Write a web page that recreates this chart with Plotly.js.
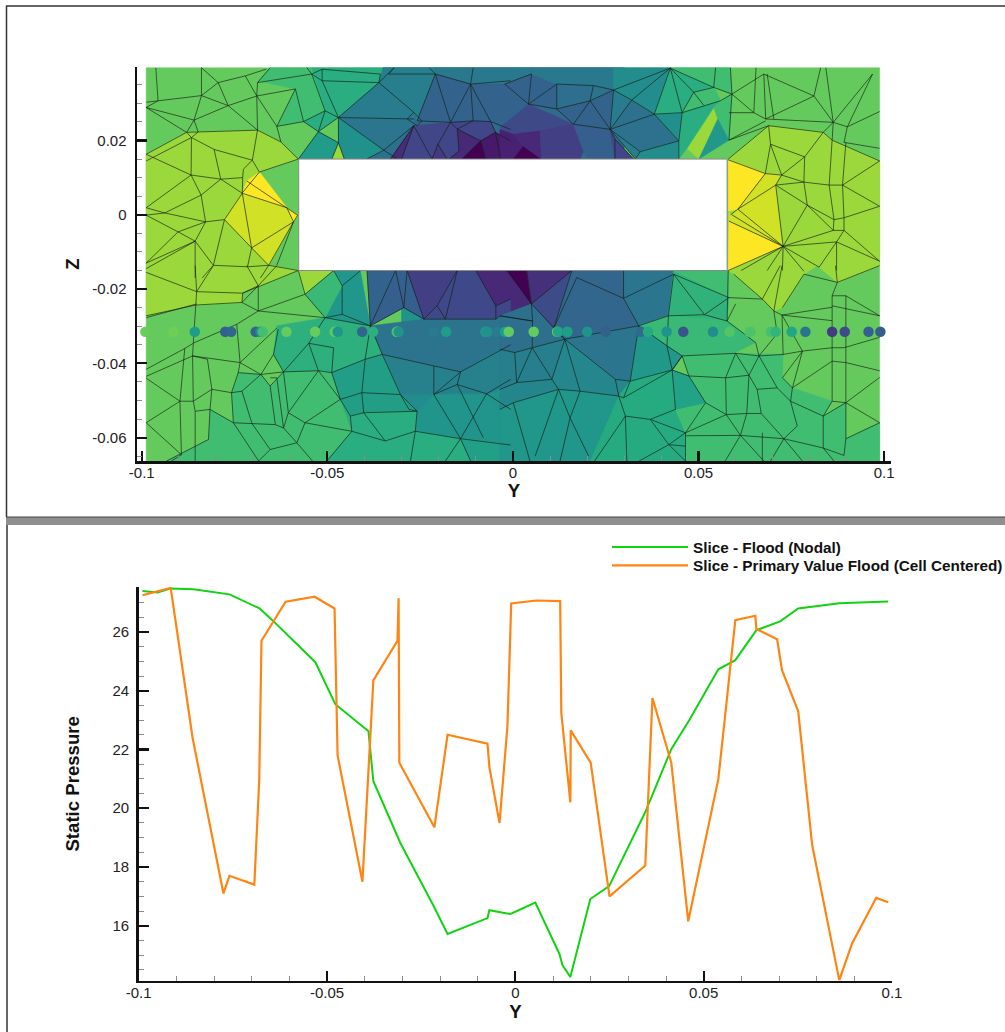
<!DOCTYPE html>
<html>
<head>
<meta charset="utf-8">
<script src="https://cdn.plot.ly/plotly-3.0.1.min.js"></script>
<style>html,body{margin:0;padding:0;background:#fff;width:1005px;height:1032px;overflow:hidden}#chart{width:1005px;height:1032px;overflow:hidden}</style>
</head>
<body>
<div id="chart"></div>
<script>
// Slice line values: position along Y (m) and static pressure
const nodalY = [-0.099,-0.095,-0.0916,-0.0855,-0.0759,-0.0679,-0.0637,-0.0531,-0.0478,-0.039,-0.0377,-0.0305,-0.0218,-0.018,-0.0074,-0.0069,-0.0013,0.0053,0.0117,0.0125,0.0146,0.0199,0.0249,0.0345,0.0414,0.0462,0.0539,0.0584,0.064,0.0703,0.0751,0.086,0.099];
const nodalP = [27.39,27.34,27.48,27.45,27.28,26.8,26.3,24.97,23.54,22.62,20.92,18.81,16.7,15.72,16.26,16.53,16.4,16.79,15.04,14.66,14.26,16.91,17.35,19.87,22.01,23,24.73,25.04,26.06,26.36,26.8,26.98,27.04];
const cellY = [-0.099,-0.0915,-0.0857,-0.0775,-0.0759,-0.0693,-0.068,-0.0674,-0.061,-0.0533,-0.048,-0.0472,-0.0406,-0.0377,-0.0313,-0.031,-0.0308,-0.0215,-0.018,-0.0074,-0.0069,-0.0042,-0.0021,-0.0011,0.0056,0.0119,0.0122,0.0146,0.0147,0.02,0.025,0.0345,0.0364,0.0414,0.0459,0.0539,0.0584,0.0637,0.064,0.0695,0.0708,0.0751,0.0788,0.086,0.0894,0.0958,0.099];
const cellP = [27.25,27.5,22.4,17.1,17.7,17.4,20.95,25.7,27.03,27.2,26.8,21.8,17.5,24.35,25.7,27.15,21.55,19.35,22.5,22.2,21.4,19.5,22.8,26.97,27.07,27.05,23.25,20.2,22.65,21.55,17,18.05,23.75,21.55,16.15,21,26.4,26.55,26.1,25.75,24.7,23.3,18.75,14.15,15.4,16.95,16.8];
const sliceZ = -0.0315;
const nodalName = 'Slice - Flood (Nodal)';
const cellName = 'Slice - Primary Value Flood (Cell Centered)';

// Tick values and labels
const yTickVals = [-0.1,-0.05,0,0.05,0.1];
const yTickText = ['-0.1','-0.05','0','0.05','0.1'];
const zTickVals = [-0.06,-0.04,-0.02,0,0.02];
const zTickText = ['-0.06','-0.04','-0.02','0','0.02'];
const pressureTickVals = [16,18,20,22,24,26];
const pressureTickText = ['16','18','20','22','24','26'];

// Flooded pressure zones of the cross-section: value and outline [y,z, y,z, ...] in mm
const zoneValues = [27, 18, 21.5, 28.9,30.7,32.2,32.2, 28.9,32.2,32.2,30.7,30.7,28.9,28.9,
  25.5,24,22.4,21.35,19.5,19,18.5,19.8,19.2,17.4,19.2,18.3,18.8,15.3,15,13.3,14,15,13,10.5,12,12.5,10.5,13,14.5,17,15,19.4,18.6,21,19.5,21,21.3,24,25.5,25.5,24,25.5,22,
  25.5,24.2,21.8,25,17.4,17,14.5,10.5,15.2,13,15,18.8,20,21.6,22.6,21,24,24,22.8,
  15.5,17.6,10.5,13.5,18.4,19,24.5,25.5,19,25,22,20.5,20.5,19.8,20.3,21.8,23.8,25.5,23];
const zoneOutlines = [
 [-98.8,39.6,98.8,39.6,98.8,-66.3,-98.8,-66.3],
 [-35,39.6,30,39.6,30,15,-35,15],
 [-30,-15,35,-15,35,-66.3,-30,-66.3],
 [-98.8,16.3,-87.9,22.2,-68.8,22.8,-62.5,19.6,-57.8,15,-68.3,11.5,-60.9,1.9,-59.1,-1.9,-65.8,-13.6,-57.8,-15,-48.3,-15,-56,-21.4,-57.8,-15,-72.8,-21.1,-73,-23.6,-85.4,-24.3,-98.8,-27.2],
 [-77.7,-1.3,-72.9,5.8,-60.9,1.9,-59.1,-1.9,-65.8,-13.6,-70.4,-8.9],
 [-72.9,5.8,-71.7,9.1,-68.3,11.5,-60.9,1.9],
 [-60.7,1.7,-58,-0.1,-59.1,-1.9],
 [58,15,68.9,24,83.6,22.2,86,20.1,98.8,14.5,98.8,-13.7,87.4,-18.2,82,-13.7,78.4,-16,72.6,-25,70.3,-25.9,67.2,-22.7,59.5,-16,58,-15],
 [58,14.8,68,11.1,60.6,1.5,58.1,1],
 [58.2,-1.7,72.5,-8.5,58,-15],
 [68,11.1,72.1,10.7,70.8,8,72.5,-8.5,59,0,60.6,1.5],
 [58.2,0.5,72.5,-8.5,58.2,-1.7],
 [54.1,28.9,55.2,25.8,50.1,15,46.9,17.9],
 [-47,19.4,-48.8,15,-45.4,15],
 [-68.6,36,-65.4,39.6,-54.2,39.6,-50.6,28,-56.4,25.1,-63.6,23.8,-58.6,33.9],
 [-54.2,39.6,-34.8,39.6,-36.1,35.6,-47,26.2,-52.4,22.4,-56.4,25.1,-50.6,28],
 [-52.4,22.4,-47,19.4,-48.8,15,-57.8,15],
 [-47,26.2,-34.8,17.4,-39.4,15,-45.4,15,-47,19.4],
 [-47,26.2,-36.1,35.6,-26.7,27.6,-26.7,25.8],
 [-47,26.2,-26.7,25.8,-26.7,24,-34.8,17.4],
 [-34.8,17.4,-26.7,24,-33,15,-39.4,15],
 [-36.1,35.6,-35,39.6,-20.9,39.6,-20.9,37.9,-25.8,25.3,-26.7,27.6],
 [-20.9,39.6,5,39.6,5,37.9,-2.2,35.2,-11.4,35.2,-20.9,37.9],
 [-20.9,37.9,-25.8,25.3,-16.8,24.9,-10.7,25.3,-6,25.1,-0.6,22.5,4.2,29.8,11.8,28.5,16.3,24.4,26.2,23,27.1,33.6,21.7,34.8,11.8,35.2,5,37.9,-2.2,35.2,-11.4,35.2],
 [5,39.6,27.1,39.6,27.1,33.6,21.7,34.8,11.8,35.2,5,37.9],
 [11.8,35.2,21.7,34.8,20.8,30.7,11.8,28.5],
 [21.7,34.8,27.1,33.6,20.8,30.7],
 [-3.5,23.5,4.2,29.8,16.3,24.4,7.3,22.6,0,21],
 [-26.7,24,-16.8,24.9,-15,23.1,-14.5,17.2,-17.2,15,-33,15],
 [-26.7,24,-33,15,-30,15],
 [-20.2,19,-21.8,15,-17.7,15],
 [-16.8,24.9,-10.7,25.3,-6,25.1,-4.7,22.2,-8.7,19.9,-15,23.1],
 [-15,23.1,-8.7,19.9,-13.7,15,-17.2,15,-14.5,17.2],
 [-8.7,19.9,-13.7,15,-7.3,15],
 [-8.7,19.9,-4.7,22.2,-0.6,19.9,-3.3,15,-7.3,15],
 [-3.5,23,0.1,21.7,2.8,18.5,0.1,15,-3.5,15],
 [2.8,18.5,7.7,15,0.1,15],
 [0.1,21.7,7.3,22.6,7.7,15,2.8,18.5],
 [7.3,22.6,16.3,24.4,19,17.2,18.1,15,7.7,15],
 [16.3,24.4,26.2,23,27.5,20.4,27.5,15,20.4,15,19,17.2],
 [26.2,22.6,27.5,20.4,32.5,15,27.5,15],
 [27.1,33.6,32,30.9,26.2,23],
 [32,30.9,38.1,27.1,44.7,19.9,34.3,17,26.2,23],
 [34.3,17,44.7,19.9,44.7,15,33,15],
 [26.2,23,34.3,17,33,15],
 [27.1,39.6,42.4,39.6,38.1,27.1,32,30.9,27.1,33.6],
 [38.1,27.1,45.6,27.5,44.7,19.9],
 [42.4,39.6,54.1,34.3,55.9,30.7,45.6,27.5,38.1,27.1],
 [42.4,39.6,58.6,39.6,59,32.5,54.1,34.3],
 [48.7,33,54.1,34.3,55.9,30.7,45.6,27.5],
 [45.6,27.5,55.9,30.7,54.1,28.9,46.9,17.9,44.7,15,44.7,19.9],
 [55.9,30.7,59,32.5,58.2,20.1,55.2,25.8,54.1,28.9],
 [55.2,25.8,58.2,20.1,50.1,15],
 [-74,-42.5,-75.8,-47.9,-75.3,-56,-81.6,-52.4,-82,-60.5,-93.3,-66.3,-50.1,-66.3,-43.4,-58.3,-46.5,-49.7,-48.8,-42.5,-52.4,-42,-61.8,-42.3,-65.4,-46.1,-67.7,-43],
 [-63.6,-29.9,-50.6,-27.7,-38.4,-29.9,-35.2,-37.6,-39.8,-38.9,-48.8,-42.5,-52.4,-42,-61.8,-42.3,-64.5,-37.6],
 [-48.3,-15,-46,-19.1,-50.6,-27.7,-38.4,-29.9,-41.1,-15],
 [-56,-21.4,-48.3,-15,-46,-19.1,-50.6,-27.7],
 [-39.3,-15,-31.6,-15,-38.4,-29.9],
 [-31.6,-15,-28.5,-15,-24,-28.1,-29.4,-25,-38.4,-29.9],
 [-28.5,-15,-15,-15,-20.4,-24.5,-24,-28.1],
 [-15,-15,-11.4,-16.6,-10,-15],
 [-20.4,-24.5,-15,-15,-10,-15,-4.6,-24.5,-4.6,-28.1,-18.2,-28.1,-24,-28.1],
 [-10,-15,-1.7,-15,5,-24,-3.5,-27.2,-4.6,-24.5],
 [-4.6,-24.5,-0.6,-22.7,-0.6,-28.5,-4.6,-28.1],
 [-38.4,-29.9,-24,-28.1,-18.2,-28.1,-4.6,-28.1,-3.5,-27.2,-3.5,-36.2,-14.1,-42.3,-21.3,-40.7,-35.2,-37.6],
 [-35.2,-37.6,-21.3,-40.7,-14.1,-42.3,-3.5,-36.2,-3.5,-47,-7.1,-48.2,-21.3,-48.4,-30.3,-48.4],
 [-26.3,-58.3,-25.8,-52.9,-21.3,-48.4,-7.1,-48.2,-3.5,-52.4,-3.5,-61.4,-14.1,-60.3],
 [-48.8,-42.5,-39.8,-38.9,-35.2,-37.6,-30.3,-48.4,-25.8,-52.9,-40.2,-53.3,-43.8,-54.2,-46.5,-49.7],
 [-30.3,-48.4,-21.3,-48.4,-25.8,-52.9],
 [-46.5,-49.7,-43.8,-54.2,-40.2,-53.3,-25.8,-52.9,-26.3,-58.3,-34.4,-60.9,-43.4,-58.3],
 [-43.4,-58.3,-34.4,-60.9,-26.3,-58.3,-14.1,-60.3,-11.4,-66.3,-50.1,-66.3],
 [-14.1,-60.3,-3.5,-61.4,-3.5,-66.3,-11.4,-66.3],
 [5,-24,15.9,-15,10.9,-30.8],
 [15.9,-15,29.8,-15,29.8,-22.5,33.9,-29.9,14,-33.5,10.9,-30.8],
 [-1.7,-15,3.7,-15,5,-24],
 [3.7,-15,15.9,-15,5,-24],
 [-3.5,-27.2,5,-24,10.9,-30.8,14,-33.5,5.2,-35.8,0.5,-37.1,-3.5,-36.2],
 [29.8,-15,43.3,-15,41.9,-27.2,33.9,-29.9,29.8,-22.5],
 [43.3,-15,58.2,-22.3,57.7,-28.6,41.9,-27.2],
 [43.3,-15,58,-15,58.2,-22.3],
 [14,-33.5,33.9,-29.9,31.6,-44.8,27.6,-44.3],
 [41.9,-27.2,57.7,-28.6,65.4,-34.4,59.5,-37.3,45.6,-38,41.5,-35.3,33.9,-29.9],
 [33.9,-29.9,41.5,-35.3,45.6,-38,42.9,-41.8,31.6,-44.8],
 [14,-33.5,27.6,-44.3,28.5,-48.8,18.1,-47.5,12.3,-47,10.5,-44.3],
 [31.6,-44.8,28.5,-48.8,27.6,-44.3],
 [-3.5,-36.2,0.5,-37.1,5.2,-35.8,14,-33.5,10.5,-44.3,1,-45.2,-3.5,-47],
 [-3.5,-47,1,-45.2,10.5,-44.3,12.3,-47,0.1,-50.6,-3.5,-52.4],
 [-3.5,-52.4,0.1,-50.6,12.3,-47,18.1,-47.5,28.5,-48.8,20.8,-66.3,-3.5,-66.3],
 [28.5,-48.8,31.6,-44.8,42.9,-41.8,47.4,-43.4,51.9,-50.6,43.8,-52.4,46.5,-58.7,46.5,-66.3,20.8,-66.3],
 [45.6,-38,59.5,-37.3,72.8,-37.6,72.6,-43.9,75.3,-46.6,86,-50.2,83.6,-54.2,89.7,-50.6,89.7,-60.3,98.8,-56,98.8,-66.3,46.5,-66.3,46.5,-58.7,43.8,-52.4,51.9,-50.6,47.4,-43.4],
 [42.9,-41.8,47.4,-43.4,51.9,-50.6,43.8,-52.4]
];
const holeOutline = [-57.7,15,57.7,15,57.7,-15,-57.7,-15];

// Mesh edges, as polylines [y,z, y,z, ...] in mm
const meshUpperLeft = [
 [-98.8,30.3,-95.6,30.7,-83.9,32.1,-83.9,39.6],[-96.2,39.6,-95.6,30.7,-98.8,28.9,-85.9,25.5,-84.8,22.3],[-98.8,28.9,-87.9,22.2],[-83.9,32.1,-85.9,25.5,-87.9,22.2],
 [-83.9,39.6,-79.4,35.6,-72.1,37.4,-69,32],[-83.9,32.1,-79.4,35.6,-76.7,29.4],[-83.9,32.1,-76.7,29.4,-68.8,22.8],[-85.9,25.5,-76.7,29.4,-69,32],[-69,32,-68.8,22.8],
 [-68.8,35.6,-69,32,-63.6,23.8,-62.5,19.6],[-69,32,-58.6,33.9,-63.6,23.8],[-58.6,33.9,-56.4,25.1],[-63.6,23.8,-56.4,25.1,-50.6,28,-54.2,37.9,-68.8,35.6],
 [-98.8,16.3,-87.9,22.2,-84.8,22.3,-68.8,22.8,-62.5,19.6,-57.8,15],[-56.4,25.1,-52.4,22.4,-57.8,15],[-50.6,28,-52.4,22.4,-47,19.4],[-50.6,28,-47,26.2,-52.4,22.4],
 [-47,26.2,-47,19.4,-48.8,15],[-47,19.4,-45.4,15],[-47,26.2,-34.8,17.4,-39.4,15],[-34.8,17.4,-31,15],[-51.4,36.1,-47,26.2,-36.1,35.6,-51.4,36.1,-51.4,39.2,-35.7,37.9,-36.1,35.6],
 [-54.2,37.9,-51.4,36.1],[-54.2,37.9,-51.4,39.2],[-68.8,35.6,-65.4,39.6],[-54.2,37.9,-55.5,39.6],[-72.1,37.4,-66.5,39.2],
 [-47,26.2,-26.7,25.8],[-36.1,35.6,-26.7,27.6,-24.5,25.3,-25.8,24,-28.5,25.8,-26.7,27.6],[-20.9,37.9,-25.8,25.3],[-20.9,37.9,-16.8,24.9],[-33.5,37.9,-20.9,37.9,-11.4,35.2],
 [-11.4,35.2,-16.8,24.9],[-11.4,35.2,-10.7,25.3],[-11.4,35.2,-6,25.1],[-25.8,25.3,-16.8,24.9,-10.7,25.3,-6,25.1,-0.6,23],[-34.8,17.4,-26.7,24,-33,15],[-26.7,24,-30,15],[-26.7,24,-21.8,15],
 [-16.8,24.9,-20.2,19,-21.8,15],[-20.2,19,-17.7,15],[-16.8,24.9,-15,23.1,-14.5,17.2,-17.2,15],[-15,23.1,-8.7,19.9,-13.7,15],[-8.7,19.9,-7.3,15],[-10.7,25.3,-15,23.1],[-6,25.1,-4.7,22.2,-8.7,19.9],
 [-4.7,22.2,-0.6,19.9],[-4.7,22.2,-3.3,15],[-11.4,35.2,-0.6,36.1],[-11.4,35.2,-10.7,39.6],[-20.9,37.9,-22.5,39.6],[-33.5,37.9,-32,39.6],[-36.1,35.6,-32,39.6],
 [-98.8,14.5,-86.6,20.8,-86.7,10.7,-84,5.3,-82.8,-1.9,-77.7,-1.3,-72.9,5.8,-78.7,9.6,-84,5.3],[-98.8,16.3,-86.7,10.7],[-86.6,20.8,-80.5,17.6,-70.2,14.7,-68.3,11.5],[-80.5,17.6,-78.7,9.6],[-86.7,10.7,-78.7,9.6,-72.8,10],
 [-70.2,14.7,-72.6,12.3,-72.8,10,-72.9,5.8],[-87.9,22.2,-86.6,20.8,-84.8,22.3],[-68.8,22.8,-70.2,14.7],[-86.7,10.7,-98.8,1.9,-93.8,0.5,-84,5.3],[-98.8,-0.1,-93.8,0.5,-82.8,-1.9],[-98.8,-0.1,-90.2,-4.6,-82.8,-1.9],
 [-90.2,-4.6,-85.6,-7.1,-82.8,-1.9],[-85.6,-7.1,-98.8,-13],[-90.2,-4.6,-98.8,-13],[-98.8,-14.5,-85.6,-7.1],[-85.6,-7.1,-85.6,-17],[-85.6,-7.1,-80.7,-13.6,-77.7,-1.3],[-77.7,-1.3,-70.4,-8.9,-72.9,5.8],[-70.4,-8.9,-71.5,-14,-80.7,-13.6],
 [-71.5,-14,-65.8,-13.6,-59.1,-1.9],[-70.4,-8.9,-59.1,-1.9],[-65.8,-13.6,-70.4,-8.9],[-80.7,-13.6,-83.7,-17],[-57.8,-15,-65.8,-13.6,-68,-17],[-63.6,-13.6,-59.1,-1.9],[-60.9,1.9,-72.9,5.8],[-71.7,9.1,-60.9,1.9,-58,-0.1,-59.1,-1.9,-60.9,1.9],
 [-73,5.8,-68.3,11.5,-57.8,15]
];
const meshUpperRight = [
 [-2.2,35.2,4.2,29.8,11.8,35.2,11.8,28.5,4.2,29.8,5,37.9,-2.2,35.2],[11.8,35.2,21.7,34.8,27.1,33.6,20.8,30.7,21.7,34.8],[11.8,28.5,20.8,30.7,26.2,23,16.3,24.4,20.8,30.7],[11.8,28.5,16.3,24.4],[27.1,33.6,26.2,23],
 [27.1,33.6,32,30.9,26.2,23],[27.1,33.6,42.4,39.5],[32,30.9,42.4,39.5],[32,30.9,38.1,27.1,42.4,39.5],[42.4,39.5,45.6,27.5],[42.4,39.5,48.7,33],[42.4,39.5,54.1,34.3],[38.1,27.1,26.2,23],[38.1,27.1,44.7,19.9],[38.1,27.1,45.6,27.5],
 [45.6,27.5,44.7,19.9,34.3,17,26.2,23],[44.7,19.9,44.7,15],[34.3,17,33,15],[26.2,23,33,15],[27.5,20.4,27.5,15],[26.2,23,27.5,20.4,32.5,15],[48.7,33,54.1,34.3],[48.7,33,51.4,29.5],[45.6,27.5,48.7,33],[45.6,27.5,55.9,30.7,59,32.5],[54.1,34.3,59,32.5],
 [58.6,39.6,59,32.5],[54.6,39.6,54.1,34.3],[59,32.5,58.2,20.1],[58.2,27.5,64.9,27.5,68.1,25.8],[59,32.5,64.9,27.5],[59,32.5,67.6,37.9],[65.5,39.6,64.9,27.5],[67.6,37.9,68.1,25.8],[68.5,37.9,70.3,25.8],[67.6,37.9,81.1,32],[81.1,32,68.1,25.8],[81.1,32,86.3,24.9],[82.9,39.6,81.1,32],[84.3,39.6,86.3,24.9],
 [96.9,37.9,86.3,24.9],[96.9,37.9,90.1,23.7],[86.3,24.9,68.1,25.8],[86.3,24.9,90.1,23.7,98.8,27.8],[90.1,23.7,89.2,19.5],[86.3,24.9,83.6,22.2],[68.9,24,83.6,22.2,86,20.1,98.8,14.5],[86.3,24.9,86,20.1],[58.2,20.1,68.9,24],[58.2,20.1,68.1,25.3],[98.8,17.9,89.2,19.5],[68.9,24,58,15],
 [68.9,24,69.4,19,68,11.1],[69.4,19,78.6,15.6,83.6,22.2],[72.4,10.7,69.4,19],[72.4,10.7,78.6,15.6],[78.6,15.6,78.4,8.8],[72.4,10.7,78.4,8.8,85.2,8,88.8,8,98.8,14.5],[85.2,8,86,20.1],[88.8,8,89.7,19.5],[70.8,8,78.4,8.8],[70.8,8,72.4,10.7],[68,11.1,60.6,1.5,58.6,0],[70.8,8,60.6,1.5],[70.8,8,79.3,2.6],[70.8,8,72.8,-8.5],[78.4,8.8,79.3,2.6],
 [79.3,2.6,86.5,-1.3,89.2,-0.8,98.8,2.3],[88.8,8,98.8,2.3],[85.2,8,86.5,-1.3],[88.8,8,89.2,-0.8],[79.3,2.6,72.8,-8.5],[86.5,-1.3,86.3,-4.2,89.2,-4.2,89.2,-0.8],[86.3,-4.2,79.3,2.6],[86.3,-4.2,72.8,-8.5],[72.8,-8.5,87.2,-7.3,89.2,-4.2],[87.2,-7.3,98.8,-12.5],[89.2,-4.2,98.8,-12.5],[87.2,-7.3,82.5,-14.1],[72.8,-8.5,82.5,-14.1],[72.8,-8.5,78.4,-15.2],
 [72.8,-8.5,58,-15],[72.8,-8.5,59,0],[72.8,-8.5,60.6,1.5],[72.8,-8.5,58.2,-1.7],[72.8,-8.5,72.6,-15],[72.8,-8.5,68.5,-15],[72.8,-8.5,61.5,-15],[87.2,-7.3,87.2,-15],[68,11.1,58,14.8],[68,11.1,72.4,10.7]
];
const meshLowerLeft = [
 [-85.2,-20.7,-80.7,-13.7],[-85.2,-20.7,-85.6,-13.7],[-85.2,-20.7,-72.8,-21.1,-68.6,-19.1],[-85.2,-20.7,-98.8,-15.5],[-98.8,-27.2,-85.4,-24.3,-73,-23.6,-72.8,-21.1],[-73,-23.6,-68.6,-19.1],[-72.8,-21.1,-57.8,-15],[-68.6,-19.1,-63.6,-13.7],[-68.6,-19.1,-71.7,-13.7],[-68.6,-19.1,-68.6,-25.9],
 [-68.6,-25.9,-73,-23.6],[-68.6,-25.9,-74.4,-29.5],[-85.2,-20.7,-85.4,-24.3,-86.1,-34.6],[-98.8,-27.7,-85.2,-24],[-57.8,-15,-56,-21.4,-48.3,-15],[-56,-21.4,-50.6,-27.7],[-68.6,-25.9,-56,-21.4],[-74.4,-29.5,-73.5,-39.8,-67.9,-43],[-73.5,-39.8,-86.3,-38],[-73.5,-39.8,-63.6,-30.5],[-64.5,-37.6,-61.8,-42.3],[-64.5,-37.6,-67.9,-43],[-64.5,-37.6,-63.2,-30.8],
 [-67.9,-43,-61.8,-42.3],[-67.9,-43,-65.4,-46.1],[-61.8,-42.3,-65.4,-46.1],[-61.8,-42.3,-52.4,-42,-48.8,-42.5],[-61.8,-42.3,-55,-34.6],[-55,-34.6,-52.4,-42],[-55,-34.6,-48.3,-35.8,-48.8,-42.5],[-55,-34.6,-50.6,-27.7],[-48.8,-42.5,-39.8,-38.9,-35.2,-37.6],[-39.8,-38.9,-38.4,-29.9],[-35.2,-37.6,-38.4,-29.9],[-50.6,-27.7,-46,-26.8,-46,-19.1,-48.3,-15],[-46,-19.1,-41,-15],[-46,-26.8,-38.4,-29.9],[-50.6,-27.7,-38.4,-29.9],[-38.4,-29.9,-39.3,-15],[-38.4,-29.9,-31.6,-15],[-38.4,-29.9,-29.4,-25,-24,-28.1],[-29.4,-25,-31.6,-15],[-29.4,-25,-28.5,-15],[-24,-28.1,-18.2,-28.1,-4.6,-28.1,-3.5,-27.2],[-24,-28.1,-20.4,-24.5,-15,-15],[-18.2,-28.1,-20.4,-24.5],[-24,-28.1,-28.5,-15],[-4.6,-28.1,-4.6,-24.5,-10,-15],[-4.6,-24.5,-0.6,-22.7],[-18.2,-28.1,-15,-15],
 [-35.2,-37.6,-21.3,-40.7,-14.1,-42.3],[-35.2,-37.6,-30.3,-48.4,-25.8,-52.9,-26.3,-58.3],[-21.3,-40.7,-21.3,-48.4],[-14.1,-42.3,-21.3,-48.4],[-14.1,-42.3,-15,-45.7],[-15,-45.7,-21.3,-48.4],[-15,-45.7,-7.1,-48.2],[-15,-45.7,-8,-60],[-30.3,-48.4,-28,-52.4,-25.8,-52.9],[-21.3,-48.4,-14.1,-60.3],[-7.1,-48.2,-14.1,-60.3],[-7.1,-48.2,-0.6,-44.3],[-7.1,-48.2,-0.6,-52.4],[-14.1,-42.3,-0.6,-35],[-14.1,-60.3,-0.6,-62],[-14.1,-60.3,-18.2,-66.3],[-14.1,-60.3,-11.4,-66.3],[-14.1,-60.3,-26.3,-58.3],[-26.3,-58.3,-27.6,-66.3],[-26.3,-58.3,-34.4,-60.9,-43.4,-58.3],[-40.2,-53.3,-34.4,-60.9],[-40.2,-53.3,-25.8,-52.9],[-40.2,-53.3,-43.8,-54.2,-46.5,-49.7,-48.8,-42.5],[-40.7,-47.9,-46.5,-49.7],[-40.7,-47.9,-40.2,-53.3],[-40.7,-47.9,-30.3,-48.4],[-40.7,-47.9,-39.8,-38.9],[-43.8,-54.2,-43.4,-58.3],[-43.4,-58.3,-50.1,-66.3],[-56,-56,-43.4,-58.3],[-56,-56,-46.5,-49.7],[-52.4,-42,-46.5,-49.7],[-52.4,-42,-60.5,-53.3],[-61.8,-42.3,-60.5,-53.3],[-60.5,-53.3,-56,-56],[-60.5,-53.3,-61.8,-57.4],[-63.6,-43.9,-61.8,-57.4],[-65.4,-43.9,-63.6,-43.9],[-65.4,-46.1,-64,-56.5],
 [-75.8,-47.9,-73,-47.5,-67.9,-43],[-73,-47.5,-70.3,-56.2],[-73.5,-39.8,-74,-42.5,-67.9,-43],[-74,-42.5,-75.8,-47.9,-75.3,-56,-70.3,-56.2,-64,-56.5,-61.8,-57.4,-58.2,-61.4],[-56,-56,-58.2,-61.4,-65.4,-63.2,-70.3,-56.2],[-65.4,-63.2,-68.5,-66.3],[-58.2,-61.4,-54,-66.3],[-75.3,-56,-68.5,-66.3],[-75.3,-56,-81.6,-52.4,-81.1,-47,-75.8,-47.9],[-81.1,-47,-82.3,-38.9],[-86.3,-38,-82.3,-38.9],[-86.1,-34.6,-86.3,-38],[-86.1,-50.2,-86.3,-38],[-88.4,-36,-89.7,-50.2],[-88.4,-36,-86.1,-34.6],[-98.8,-41.6,-88.4,-36],[-98.8,-43.5,-86.3,-38],[-89.7,-50.2,-86.1,-50.2,-85.6,-52.9,-81.6,-52.4],[-81.6,-52.4,-82,-60.5],[-89.7,-50.2,-98.8,-56],[-89.7,-50.2,-89.3,-64.6],[-85.6,-52.9,-85.6,-66.3],[-98.8,-56,-89.3,-64.6,-92,-66.3],[-86.1,-50.2,-81.1,-47],[-98.8,-44,-89.7,-50.2],[-82,-60.5,-93.3,-66.3],[-74.4,-29.5,-86,-34.5],[-50.6,-27.7,-68.6,-25.9]
];
const meshLowerRight = [
 [-1.2,-15,5,-24,3.7,-15],[5,-24,15.9,-15],[5,-24,5.3,-28.6,-3.5,-27.2],[5,-24,14,-33.5],[5.3,-28.6,5.2,-35.8],[5.2,-35.8,14,-33.5],[5.2,-35.8,0.5,-37.1,-3.5,-36.2],[0.5,-37.1,1,-45.2],[5.2,-35.8,1,-45.2],[5.2,-35.8,10.5,-44.3],[14,-33.5,10.5,-44.3,12.3,-47],[1,-45.2,10.5,-44.3],[-3.5,-47,1,-45.2],[12.3,-47,18.1,-47.5,28.5,-48.8],[14,-33.5,18.1,-47.5],[14,-33.5,27.6,-44.3,28.5,-48.8],[14,-33.5,33.9,-29.9],[14,-33.5,10.9,-30.8,15.9,-15],[17.2,-16.9,29.8,-22.5],[17.2,-16.9,10.9,-30.8],[29.8,-15,29.8,-22.5,33.9,-29.9],[29.8,-22.5,43.3,-16],[43.3,-16,41.9,-27.2,33.9,-29.9],[43.3,-16,51.6,-26.9],[43.3,-16,58.2,-22.3],[41.9,-27.2,51.6,-26.9,58.2,-22.3],[51.6,-26.9,57.7,-28.6],[41.9,-27.2,41.5,-35.3,33.9,-29.9],[33.9,-29.9,31.6,-44.8],[41.5,-35.3,45.6,-38,42.9,-41.8,41.5,-35.3],[42.9,-41.8,31.6,-44.8,27.6,-44.3],[31.6,-44.8,29.8,-49.3,28.5,-48.8],[28.5,-48.8,30.3,-54.2,37,-55.1,43.8,-52.4],[42.9,-41.8,43.8,-52.4],[42.9,-41.8,29.8,-49.3],[47.4,-43.4,51.9,-50.6],[47.4,-43.4,42.9,-41.8],[47.4,-43.4,57.3,-43.9,63.6,-43.2],[45.6,-38,47.4,-43.4],[45.6,-38,60,-37.3,66.3,-38,72.8,-37.6],[60,-37.3,57.3,-43.9],[60,-37.3,63.6,-43.2],[66.3,-38,63.6,-43.2],[66.3,-38,71.2,-46.6],[57.3,-43.9,57.5,-53.8],[63.6,-43.2,63,-53.5],[63.6,-43.2,65.8,-47,66.9,-53.5],[65.8,-47,71.2,-46.6],[57.5,-53.8,63,-53.5,66.9,-53.5],[51.9,-50.6,57.5,-53.8,46.5,-58.7,51.9,-50.6],[57.5,-53.8,61.3,-59.4,63,-53.5],[46.5,-59.5,61.3,-59.4,73,-60.3,76.6,-56.9],[66.9,-53.5,73,-60.3],[71.2,-46.6,74.8,-50.2,76.6,-56.9],[74.8,-50.2,83.6,-54.2,83.6,-62.8,73,-60.3],[75.3,-46.6,74.8,-50.2],[83.6,-62.8,89.2,-64.8,89.7,-60.3],[83.6,-54.2,89.7,-50.6,89.7,-60.3,98.8,-56,89.7,-50.6],[86,-50.2,83.6,-54.2],[86,-50.2,89.7,-50.6],[86,-50.2,86,-21.8,89.7,-21.8],[89.7,-50.6,89.7,-21.8],[86,-39.4,89.7,-39.8,98.8,-42],[89.7,-50.6,98.8,-43.8],[72.8,-37.6,78,-36.7,86,-35.8,89.2,-35.8,98.8,-33],[78,-36.7,72.6,-43.9,75.3,-46.6,78,-36.7],[75.3,-46.6,86,-39.4],[72.5,-27,72.8,-37.6],[72.5,-27,78,-36.7],[72.5,-27,86,-28.5],[70.3,-25.9,71.2,-32,66.3,-38],[72.5,-27,86,-24.9],[70.3,-25.9,72.5,-27],[58,-15,57.7,-28.6,65.4,-34.4,66.3,-38],[58.2,-22.3,67.2,-22.7,70.3,-25.9],[57.7,-28.6,60,-24],[59.5,-16,67.2,-22.7],[67.2,-22.7,72,-13.7],[70.3,-25.9,72.5,-13.7],[72.6,-25,78.4,-16,87.4,-18.2,98.8,-13.7],[87.4,-18.2,86.9,-13.7],[87.4,-18.2,86,-21.8],[86,-24.5,98.8,-27.2],[89.7,-21.8,98.8,-27.2],[46.5,-58.7,46.5,-66.3],[46.5,-62.3,42,-61.9],[42,-61.9,34,-66.3],[42,-61.9,46.5,-66.3],[37,-55.1,46.5,-58.7],[46.5,-58.7,42,-61.9],[30.3,-54.2,22,-66.3],[30.3,-54.2,30.7,-66.3],[37,-55.1,42,-61.9],[15.4,-54.7,12.3,-47],[15.4,-54.7,18.1,-47.5],[15.4,-54.7,12.7,-66.3],[15.4,-54.7,20.4,-65],[12.3,-47,6,-65],[12.3,-47,0.1,-50.6],[0.1,-50.6,4.6,-66.3],[0.1,-50.6,-3.5,-52.4],[61.3,-59.4,57.2,-66.3],[61.3,-59.4,67.6,-66.3],[67.2,-58.7,67.2,-66.3],[73,-60.3,69.4,-66.3],[73,-60.3,78,-66.3],[83.6,-62.8,86.5,-66.3],[45.6,-38,42.9,-41.8],[-3.5,-27.2,5.3,-28.6]
];

// Shared viridis colour scale of the flood and the slice points
const floodMin = 10.5, floodMax = 32.2;
const viridisStops = ['#440154','#482475','#414487','#355f8d','#2a788e','#21918c','#22a884','#44bf70','#7ad151','#bddf26','#fde725'];

function floodColor(v){
  const t = Math.max(0, Math.min(1, (v-floodMin)/(floodMax-floodMin))) * (viridisStops.length-1);
  const i = Math.min(Math.floor(t), viridisStops.length-2), f = t-i;
  const rgb = s => [1,3,5].map(k => parseInt(s.substr(k,2),16));
  const a = rgb(viridisStops[i]), b = rgb(viridisStops[i+1]);
  return 'rgb('+a.map((c,k)=>Math.round(c+(b[k]-c)*f)).join(',')+')';
}
const meters = mm => mm/1000;
function ring(flat){
  const y=[],z=[];
  for(let i=0;i<flat.length;i+=2){y.push(meters(flat[i]));z.push(meters(flat[i+1]));}
  y.push(y[0]);z.push(z[0]);
  return {y,z};
}
const traces = [];
zoneOutlines.forEach((o,i)=>{
  const r = ring(o), c = floodColor(zoneValues[i]);
  traces.push({type:'scatter',mode:'lines',x:r.y,y:r.z,xaxis:'x',yaxis:'y',fill:'toself',fillcolor:c,line:{color:c,width:0.5},hoverinfo:'skip',showlegend:false});
});
const edgeY=[],edgeZ=[];
[meshUpperLeft,meshUpperRight,meshLowerLeft,meshLowerRight].forEach(group=>group.forEach(chain=>{
  for(let i=0;i<chain.length;i+=2){edgeY.push(meters(chain[i]));edgeZ.push(meters(chain[i+1]));}
  edgeY.push(null);edgeZ.push(null);
}));
traces.push({type:'scatter',mode:'lines',x:edgeY,y:edgeZ,xaxis:'x',yaxis:'y',line:{color:'rgba(20,30,20,0.72)',width:0.9},hoverinfo:'skip',showlegend:false,connectgaps:false});
const hole = ring(holeOutline);
traces.push({type:'scatter',mode:'lines',x:hole.y,y:hole.z,xaxis:'x',yaxis:'y',fill:'toself',fillcolor:'#ffffff',line:{color:'#8a8a8a',width:1},hoverinfo:'skip',showlegend:false});
traces.push({type:'scatter',mode:'markers',x:cellY,y:cellY.map(()=>sliceZ),xaxis:'x',yaxis:'y',
  marker:{size:10.5,color:cellP,colorscale:'Viridis',cmin:floodMin,cmax:floodMax,showscale:false,line:{width:0}},showlegend:false,hoverinfo:'skip'});
traces.push({type:'scatter',mode:'lines',name:nodalName,legend:'legend',x:nodalY,y:nodalP,xaxis:'x2',yaxis:'y2',line:{color:'#12d312',width:2}});
traces.push({type:'scatter',mode:'lines',name:cellName,legend:'legend2',x:cellY,y:cellP,xaxis:'x2',yaxis:'y2',line:{color:'#ff8412',width:2.2}});

const W=1005,H=1032;
const fx=p=>p/W, fy=p=>1-p/H;
const tickFont={family:'Liberation Sans, Arial, sans-serif',size:15,color:'#222'};
const titleFont={family:'Liberation Sans, Arial, sans-serif',size:18.6,color:'#111',weight:700};
const legendFont={family:'Liberation Sans, Arial, sans-serif',size:15.3,color:'#111',weight:700};
function ax(o){return Object.assign({showgrid:false,zeroline:false,showline:true,linecolor:'#111',linewidth:2.5,mirror:false,ticks:'inside',ticklen:10,tickwidth:2.2,tickcolor:'#111',tickfont:tickFont,fixedrange:true,tickmode:'array'},o);}
const minor=d=>({dtick:d,ticks:'inside',ticklen:5,tickwidth:1,tickcolor:'#8c8c8c',showgrid:false});
const legendAt=(py)=>({x:fx(607),y:fy(py),xanchor:'left',yanchor:'middle',itemwidth:76,bgcolor:'rgba(0,0,0,0)',borderwidth:0,font:legendFont,itemclick:false,itemdoubleclick:false});

const layout={
  width:W,height:H,paper_bgcolor:'#fff',plot_bgcolor:'rgba(0,0,0,0)',margin:{l:0,r:0,t:0,b:0,autoexpand:false},showlegend:true,
  xaxis:ax({domain:[fx(137),fx(891)],range:[-0.10127,0.10186],tickvals:yTickVals,ticktext:yTickText,ticklabelstandoff:-4,minor:minor(0.01),anchor:'y',title:{text:'Y',font:titleFont,standoff:2}}),
  yaxis:ax({domain:[fy(461),fy(67)],range:[-0.0663,0.0398],tickvals:zTickVals,ticktext:zTickText,ticklabelstandoff:5,minor:minor(0.005),anchor:'x',title:{text:'Z',font:titleFont,standoff:8}}),
  xaxis2:ax({domain:[fx(138.7),fx(892)],range:[-0.1,0.1],tickvals:yTickVals,ticktext:yTickText,ticklabelstandoff:-3,minor:minor(0.01),anchor:'y2',title:{text:'Y',font:titleFont,standoff:2}}),
  yaxis2:ax({domain:[fy(980.7),fy(587)],range:[14.13,27.53],tickvals:pressureTickVals,ticktext:pressureTickText,ticklabelstandoff:4,minor:minor(0.5),anchor:'x2',title:{text:'Static Pressure',font:titleFont,standoff:28}}),
  legend:legendAt(547),
  legend2:legendAt(565.5),
  shapes:[
    {type:'line',xref:'paper',yref:'paper',x0:fx(6),x1:fx(1005),y0:fy(6),y1:fy(6),line:{color:'#333',width:1.5},layer:'below'},
    {type:'line',xref:'paper',yref:'paper',x0:fx(6.5),x1:fx(6.5),y0:fy(6),y1:fy(517),line:{color:'#333',width:1.5},layer:'below'},
    {type:'rect',xref:'paper',yref:'paper',x0:fx(6),x1:fx(1005),y0:fy(517),y1:fy(525),line:{width:0},fillcolor:'#8f8f8f',layer:'below'},
    {type:'line',xref:'paper',yref:'paper',x0:fx(6),x1:fx(1005),y0:fy(517),y1:fy(517),line:{color:'#444',width:1.2},layer:'below'},
    {type:'line',xref:'paper',yref:'paper',x0:fx(7),x1:fx(7),y0:fy(525),y1:fy(1032),line:{color:'#666',width:2},layer:'below'}
  ]
};
Plotly.newPlot('chart',traces,layout,{displayModeBar:false,staticPlot:true});
</script>
</body>
</html>
